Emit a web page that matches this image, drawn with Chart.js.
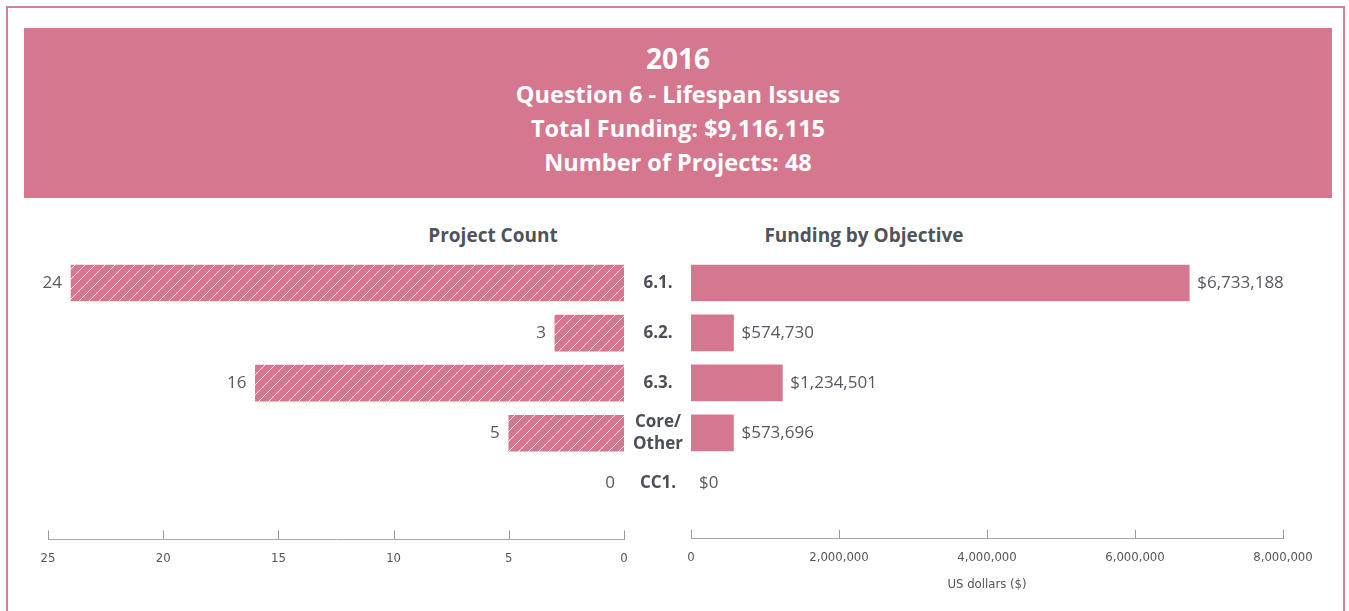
<!DOCTYPE html>
<html>
<head>
<meta charset="utf-8">
<script src="https://cdn.jsdelivr.net/npm/chart.js@4"></script>
<style>
  html, body { margin: 0; padding: 0; background: #fff; }
  body { width: 1349px; height: 611px; position: relative; overflow: hidden; font-family: "Open Sans", sans-serif; }
  .frame { position: absolute; left: 6px; top: 6px; width: 1339px; height: 700px; border: 2px solid #d77f93; box-sizing: border-box; }
  .header { position: absolute; left: 24px; top: 28px; width: 1308px; height: 170px; background: #d5788f; color: #fff; text-align: center; font-weight: bold; }
  .header .year { font-size: 28px; line-height: 36px; margin-top: 12px; }
  .header .line { font-size: 23.5px; line-height: 34px; }
  .header .line:nth-child(2) { margin-top: 1px; }
  .title { position: absolute; top: 222px; font-size: 19px; font-weight: bold; color: #4f535b; transform: translateX(-50%); white-space: nowrap; }
  canvas { position: absolute; }
</style>
</head>
<body>
<div class="frame"></div>
<div class="header">
  <div class="year">2016</div>
  <div class="line">Question 6 - Lifespan Issues</div>
  <div class="line">Total Funding: $9,116,115</div>
  <div class="line">Number of Projects: 48</div>
</div>
<div class="title" style="left:493px">Project Count</div>
<div class="title" style="left:864px">Funding by Objective</div>
<div style="position:absolute;left:0;top:200px;width:640px;height:411px"><canvas id="count"></canvas></div>
<div style="position:absolute;left:626px;top:200px;width:723px;height:411px"><canvas id="funding"></canvas></div>
<script>
"use strict";

const categories = ["6.1.", "6.2.", "6.3.", ["Core/", "Other"], "CC1."];
const projectCounts = [24, 3, 16, 5, 0];
const funding = [6733188, 574730, 1234501, 573696, 0];
const countTicks = [0, 5, 10, 15, 20, 25];
const fundingTicks = [0, 2000000, 4000000, 6000000, 8000000];

const pink = "#d5788f";
const textGray = "#555961";
const narrow = '"Liberation Sans Narrow", "DejaVu Sans Condensed", sans-serif';

function hatch() {
  const c = document.createElement("canvas");
  c.width = 10;
  c.height = 10;
  const g = c.getContext("2d");
  g.fillStyle = pink;
  g.fillRect(0, 0, 10, 10);
  g.strokeStyle = "rgba(255,255,255,0.9)";
  g.lineWidth = 1;
  g.beginPath();
  g.moveTo(0, 10); g.lineTo(10, 0);
  g.moveTo(-5, 5); g.lineTo(5, -5);
  g.moveTo(5, 15); g.lineTo(15, 5);
  g.stroke();
  return g.createPattern(c, "repeat");
}

// tick marks point up from the axis line
const upTicks = {
  id: "upTicks",
  afterDraw(chart) {
    const ctx = chart.ctx;
    const s = chart.scales.x;
    const y = chart.chartArea.bottom;
    ctx.save();
    ctx.strokeStyle = "#9a9a9a";
    ctx.lineWidth = 1;
    s.ticks.forEach((t) => {
      const x = Math.round(s.getPixelForValue(t.value)) + 0.5;
      ctx.beginPath();
      ctx.moveTo(x, y - 9);
      ctx.lineTo(x, y);
      ctx.stroke();
    });
    ctx.restore();
  },
};

const valueLabels = {
  id: "valueLabels",
  afterDatasetsDraw(chart, args, opts) {
    const ctx = chart.ctx;
    const meta = chart.getDatasetMeta(0);
    const values = chart.data.datasets[0].data;
    ctx.save();
    ctx.font = '17px "Open Sans", sans-serif';
    ctx.fillStyle = textGray;
    ctx.textBaseline = "middle";
    meta.data.forEach((bar, i) => {
      const v = values[i].x;
      if (opts.side === "left") {
        ctx.textAlign = "right";
        ctx.fillText(String(v), bar.x - 9, bar.y);
      } else {
        ctx.textAlign = "left";
        ctx.fillText("$" + v.toLocaleString("en-US"), bar.x + 8, bar.y);
      }
    });
    if (opts.side === "right") {
      // objective names between the two charts
      ctx.font = 'bold 17px "Open Sans", sans-serif';
      ctx.fillStyle = "#4b4f57";
      ctx.textAlign = "center";
      const cx = chart.chartArea.left - 33;
      categories.forEach((c, i) => {
        const y = chart.scales.y.getPixelForValue(i);
        const lines = Array.isArray(c) ? c : [c];
        lines.forEach((l, j) => {
          ctx.fillText(l, cx, y + (j - (lines.length - 1) / 2) * 22);
        });
      });
    }
    ctx.restore();
  },
};

function makeChart(id, values, ticks, side) {
  const max = ticks[ticks.length - 1];
  const xAxis = {
    type: "linear",
    min: 0,
    max: max,
    reverse: side === "left",
    afterBuildTicks: (s) => { s.ticks = ticks.map((v) => ({ value: v })); },
    grid: { display: false, drawTicks: false },
    border: { color: "#a8a8a8", width: 1 },
    ticks: {
      padding: 11,
      color: "#555",
      font: { family: narrow, size: 13 },
      callback: (v) => v.toLocaleString("en-US"),
      maxRotation: 0,
    },
  };
  if (side === "right") {
    xAxis.title = {
      display: true,
      text: "US dollars ($)",
      color: "#555",
      padding: { top: 0, bottom: 0 },
      font: { family: narrow, size: 13 },
    };
  }
  return new Chart(document.getElementById(id), {
    type: "bar",
    data: {
      datasets: [{
        data: values.map((v, i) => ({ x: v, y: i })),
        backgroundColor: (c) => (c.raw && c.raw.x === 0 ? "rgba(0,0,0,0)" : (side === "left" ? hatch() : pink)),
        borderWidth: 0,
        barThickness: 36,
      }],
    },
    options: {
      indexAxis: "y",
      responsive: true,
      maintainAspectRatio: false,
      animation: false,
      layout: {
        padding: side === "left"
          ? { left: 48, right: 16, top: 58, bottom: 34 }
          : { left: 65, right: 66, top: 58, bottom: 19 },
      },
      scales: {
        x: xAxis,
        y: { type: "linear", reverse: true, offset: false, min: -0.5, max: 5.12, display: false },
      },
      plugins: {
        legend: { display: false },
        tooltip: { enabled: false },
        valueLabels: { side: side },
      },
    },
    plugins: [upTicks, valueLabels],
  });
}

makeChart("count", projectCounts, countTicks, "left");
makeChart("funding", funding, fundingTicks, "right");
</script>
</body>
</html>
